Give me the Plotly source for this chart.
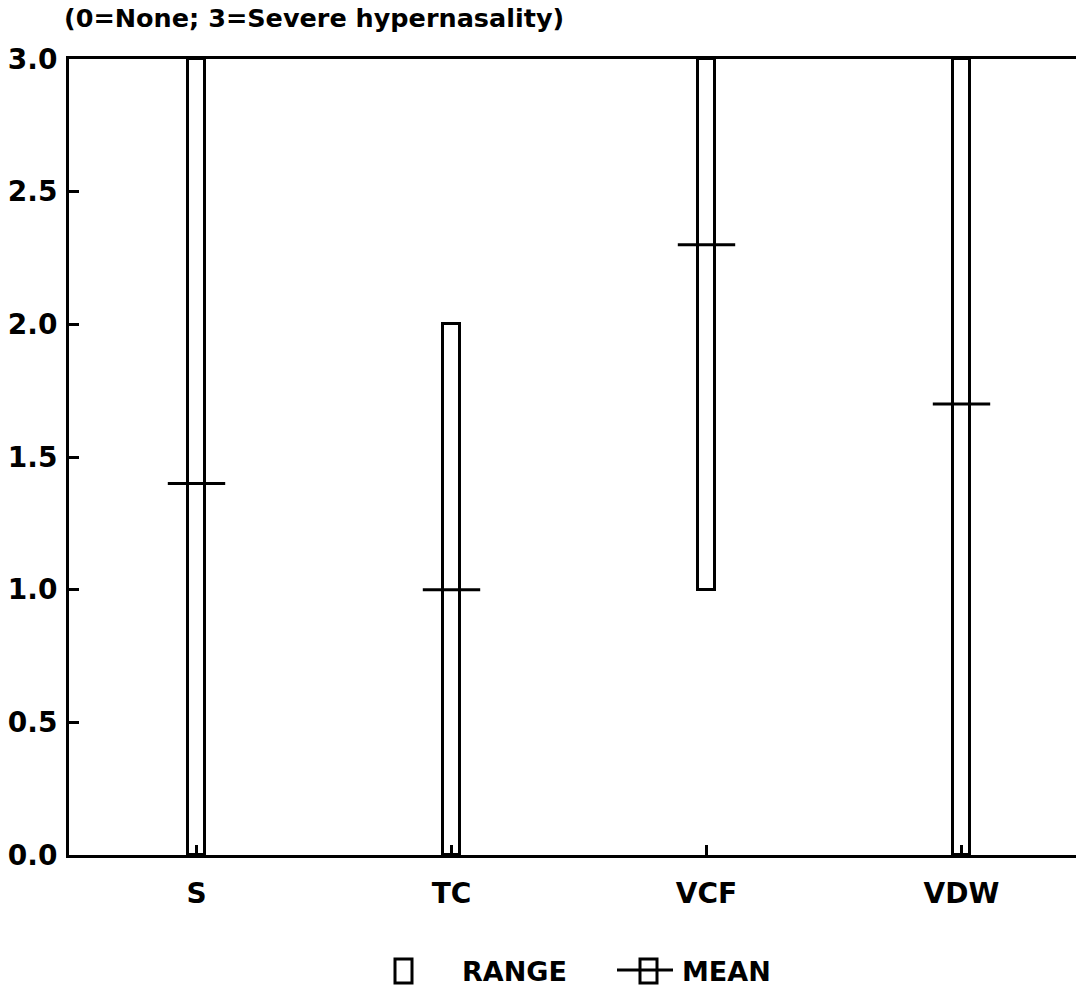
import plotly.graph_objects as go

# ---- data ----
categories = ["S", "TC", "VCF", "VDW"]
range_low = [0.0, 0.0, 1.0, 0.0]
range_high = [3.0, 2.0, 3.0, 3.0]
mean_vals = [1.4, 1.0, 2.3, 1.7]
y_ticks = [0.0, 0.5, 1.0, 1.5, 2.0, 2.5, 3.0]
y_ticklabels = ["0.0", "0.5", "1.0", "1.5", "2.0", "2.5", "3.0"]
title_text = "(0=None; 3=Severe hypernasality)"
legend_labels = ["RANGE", "MEAN"]

# ---- layout constants ----
W, H = 1076, 999
ML, MR, MT, MB = 69, 0, 59, 144
PW, PH = W - ML - MR, H - MT - MB
FONT = dict(family="DejaVu Sans", color="black", size=27, weight="bold")


def px_x(px):
    return (px - ML) / PW


def px_y(py):
    return (H - MB - py) / PH


xpos = list(range(len(categories)))
heights = [h - l for h, l in zip(range_high, range_low)]

fig = go.Figure()
fig.add_trace(go.Bar(
    x=xpos, y=heights, base=range_low, width=0.067,
    marker=dict(color="white", line=dict(color="black", width=3)),
    showlegend=False, hoverinfo="skip",
))
fig.add_trace(go.Scatter(
    x=xpos, y=mean_vals, mode="markers",
    marker=dict(symbol="line-ew", size=41, line=dict(color="black", width=3)),
    showlegend=False, cliponaxis=False,
))

shapes = []
annotations = []
# legend: range icon
shapes.append(dict(type="rect", xref="paper", yref="paper",
                   x0=px_x(395), x1=px_x(412), y0=px_y(983), y1=px_y(959),
                   line=dict(color="black", width=3), fillcolor="white"))
# legend: mean icon
shapes.append(dict(type="line", xref="paper", yref="paper",
                   x0=px_x(617), x1=px_x(673), y0=px_y(970), y1=px_y(970),
                   line=dict(color="black", width=3)))
shapes.append(dict(type="rect", xref="paper", yref="paper",
                   x0=px_x(640), x1=px_x(657), y0=px_y(983), y1=px_y(959),
                   line=dict(color="black", width=3)))
annotations.append(dict(text=legend_labels[0], xref="paper", yref="paper",
                        x=px_x(460), y=px_y(971), xanchor="left", yanchor="middle",
                        showarrow=False, font=FONT))
annotations.append(dict(text=legend_labels[1], xref="paper", yref="paper",
                        x=px_x(680), y=px_y(971), xanchor="left", yanchor="middle",
                        showarrow=False, font=FONT))
annotations.append(dict(text=title_text, xref="paper", yref="paper",
                        x=px_x(62), y=px_y(18), xanchor="left", yanchor="middle",
                        showarrow=False, font=dict(FONT, size=25.5)))

fig.update_layout(
    width=W, height=H,
    margin=dict(l=ML, r=MR, t=MT, b=MB, pad=0),
    paper_bgcolor="white", plot_bgcolor="white",
    font=FONT,
    shapes=shapes, annotations=annotations,
    showlegend=False,
    bargap=0,
)
fig.update_xaxes(
    range=[-0.5, -0.5 + PW / 255.0],
    tickmode="array", tickvals=xpos, ticktext=categories,
    ticks="inside", ticklen=10, tickwidth=3, tickcolor="black",
    showline=True, linewidth=3, linecolor="black", mirror=True,
    showgrid=False, zeroline=False, ticklabelstandoff=11,
    tickfont=dict(FONT, size=28),
)
fig.update_yaxes(
    range=[0, 3],
    tickmode="array", tickvals=y_ticks, ticktext=y_ticklabels,
    ticks="inside", ticklen=10, tickwidth=3, tickcolor="black",
    showline=True, linewidth=3, linecolor="black", mirror=False,
    showgrid=False, zeroline=False, ticklabelstandoff=3,
    tickfont=dict(FONT, size=28),
)

fig.write_html("out.html")
